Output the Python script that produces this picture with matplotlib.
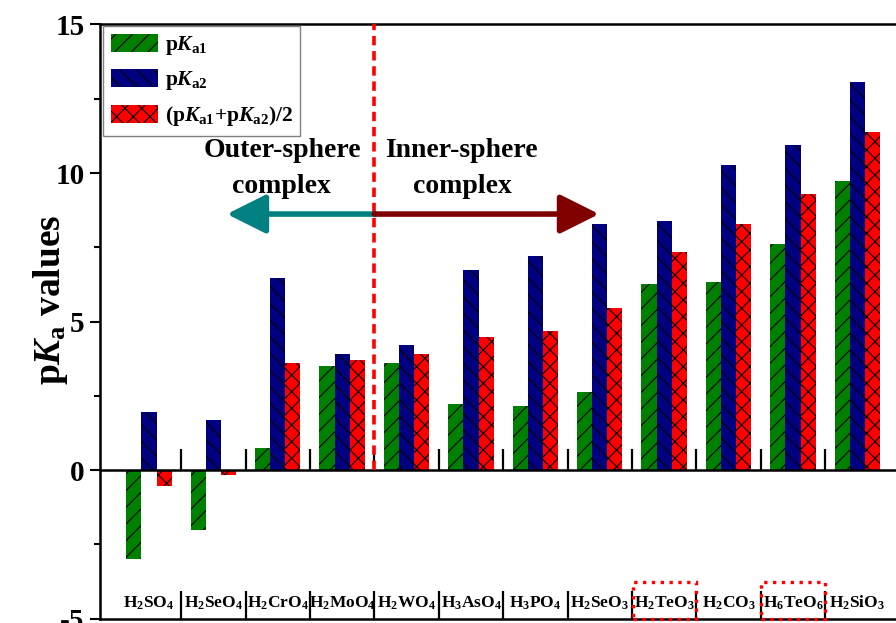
import numpy as np
import matplotlib
matplotlib.use('Agg')
import matplotlib.pyplot as plt
from matplotlib.patches import Rectangle

plt.rcParams['font.family'] = 'Liberation Serif'
plt.rcParams['font.weight'] = 'bold'
plt.rcParams['mathtext.fontset'] = 'custom'
plt.rcParams['mathtext.rm'] = 'Liberation Serif:bold'
plt.rcParams['mathtext.it'] = 'Liberation Serif:italic:bold'
plt.rcParams['mathtext.bf'] = 'Liberation Serif:bold'
plt.rcParams['hatch.linewidth'] = 0.8
plt.rcParams['axes.unicode_minus'] = False

# acides et valeurs de pKa
acids = [r'$\mathrm{H_2SO_4}$', r'$\mathrm{H_2SeO_4}$', r'$\mathrm{H_2CrO_4}$',
         r'$\mathrm{H_2MoO_4}$', r'$\mathrm{H_2WO_4}$', r'$\mathrm{H_3AsO_4}$',
         r'$\mathrm{H_3PO_4}$', r'$\mathrm{H_2SeO_3}$', r'$\mathrm{H_2TeO_3}$',
         r'$\mathrm{H_2CO_3}$', r'$\mathrm{H_6TeO_6}$', r'$\mathrm{H_2SiO_3}$']
pka1 = [-3.0, -2.0, 0.74, 3.5, 3.6, 2.24, 2.15, 2.62, 6.25, 6.33, 7.62, 9.73]
pka2 = [1.97, 1.68, 6.48, 3.9, 4.2, 6.74, 7.2, 8.3, 8.4, 10.28, 10.95, 13.05]
pka_moy = [-0.52, -0.16, 3.61, 3.7, 3.9, 4.49, 4.68, 5.46, 7.33, 8.3, 9.29, 11.39]
encadres = [8, 10]  # H2TeO3 et H6TeO6

x = np.arange(len(acids))
w = 0.235

fig = plt.figure(figsize=(8.96, 6.23), dpi=100)
ax = fig.add_axes([100/896, 4.3/623, 796/896, 594.2/623])

ax.bar(x - w, pka1, w, color='#008000', edgecolor='k', lw=0, hatch='//',
       label=r'p$K_{\mathrm{a1}}$', zorder=2)
ax.bar(x, pka2, w, color='#000080', edgecolor='k', lw=0, hatch='\\\\',
       label=r'p$K_{\mathrm{a2}}$', zorder=2)
ax.bar(x + w, pka_moy, w, color='#ff0000', edgecolor='k', lw=0, hatch='xx',
       label=r'(p$K_{\mathrm{a1}}$+p$K_{\mathrm{a2}}$)/2', zorder=2)

ax.set_xlim(-0.76, -0.76 + 796/64.4)
ax.set_ylim(-5, 15)

# axe horizontal a zero + separateurs
ax.axhline(0, color='k', lw=1.8, zorder=3)
sep = x[:-1] + 0.5
ax.vlines(sep, 0, 0.7, color='k', lw=1.6, zorder=3)
ax.set_xticks(sep)
ax.set_xticklabels([])
ax.tick_params(axis='x', direction='in', length=20, width=1.6)

for i, name in enumerate(acids):
    ax.text(i, -4.62, name, ha='center', va='baseline', fontsize=12.5)

for i in encadres:
    ax.add_patch(Rectangle((i - 0.49, -5), 0.99, 1.22, fill=False, ec='red',
                           ls=':', lw=2.4, zorder=4, clip_on=False))

# limite externe / interne
ax.plot([3.5, 3.5], [0, 15], color='red', lw=2.6, dashes=(2.6, 1.6), zorder=3)
ax.annotate('', xy=(1.21, 8.62), xytext=(3.5, 8.62),
            arrowprops=dict(arrowstyle='-|>,head_length=1.0,head_width=0.5',
                            color='#008080', lw=4, shrinkA=0, shrinkB=0,
                            mutation_scale=24))
ax.annotate('', xy=(6.99, 8.62), xytext=(3.5, 8.62),
            arrowprops=dict(arrowstyle='-|>,head_length=1.0,head_width=0.5',
                            color='#800000', lw=4, shrinkA=0, shrinkB=0,
                            mutation_scale=24))
ax.text(2.07, 10.54, 'Outer-sphere', ha='center', va='baseline', fontsize=20)
ax.text(2.05, 9.33, 'complex', ha='center', va='baseline', fontsize=20)
ax.text(4.86, 10.54, 'Inner-sphere', ha='center', va='baseline', fontsize=20)
ax.text(4.86, 9.33, 'complex', ha='center', va='baseline', fontsize=20)

ax.set_yticks([-5, 0, 5, 10, 15])
ax.set_yticks(np.arange(-5, 15.1, 2.5), minor=True)
ax.tick_params(axis='y', which='major', direction='out', length=7, width=1.5,
               labelsize=21, pad=4)
ax.tick_params(axis='y', which='minor', direction='out', length=4.5, width=1.5)
for s in ['left', 'top', 'bottom']:
    ax.spines[s].set_linewidth(1.8)
ax.spines['right'].set_visible(False)

fig.text(50/896, 1 - 300/623, r'p$K_{\mathrm{a}}$ values', rotation=90,
         ha='center', va='center', fontsize=27)

leg = ax.legend(loc='upper left', bbox_to_anchor=(0.004, 0.997), fontsize=15.5,
                frameon=True, fancybox=False, framealpha=1, edgecolor='#808080',
                handlelength=2.2, handleheight=0.9, labelspacing=0.55,
                handletextpad=0.3, borderpad=0.35, borderaxespad=0)
leg.get_frame().set_linewidth(1.0)

fig.savefig('out.png', dpi=100)
